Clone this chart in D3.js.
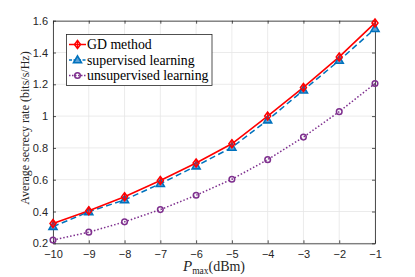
<!DOCTYPE html>
<html>
<head>
<meta charset="utf-8">
<script src="https://cdn.jsdelivr.net/npm/d3@7"></script>
<style>
  body { margin: 0; background: #fff; }
</style>
</head>
<body>
<div id="canvas"></div>
<script>
const width = 415;
const height = 277;

// data
var pmax = [-10, -9, -8, -7, -6, -5, -4, -3, -2, -1];
var gdMethod = [0.325, 0.405, 0.493, 0.595, 0.705, 0.826, 1.0, 1.18, 1.372, 1.586];
var supervised = [0.305, 0.398, 0.473, 0.575, 0.686, 0.803, 0.975, 1.163, 1.35, 1.55];
var unsupervised = [0.22, 0.27, 0.335, 0.412, 0.502, 0.603, 0.726, 0.868, 1.028, 1.205];
var xTicks = [-10, -9, -8, -7, -6, -5, -4, -3, -2, -1];
var yTicks = [0.2, 0.4, 0.6, 0.8, 1, 1.2, 1.4, 1.6];
var seriesNames = ["GD method", "supervised learning", "unsupervised learning"];

const plotL = 53, plotR = 375, plotT = 20.7, plotB = 243.3;

const svg = d3.select("#canvas")
    .append("svg")
    .attr("width", width)
    .attr("height", height)
    .style("background-color", "white");

var xScale = d3.scaleLinear().domain([-10, -1]).range([plotL, plotR]);
var yScale = d3.scaleLinear().domain([0.2, 1.6]).range([plotB, plotT]);

// grid
svg.append("g").selectAll("line")
    .data(xTicks)
    .join("line")
    .attr("x1", d => xScale(d)).attr("x2", d => xScale(d))
    .attr("y1", plotT).attr("y2", plotB)
    .attr("stroke", "#e6e6e6").attr("stroke-width", 0.8);
svg.append("g").selectAll("line")
    .data(yTicks)
    .join("line")
    .attr("y1", d => yScale(d)).attr("y2", d => yScale(d))
    .attr("x1", plotL).attr("x2", plotR)
    .attr("stroke", "#e6e6e6").attr("stroke-width", 0.8);

// axes
svg.append("g")
    .attr("transform", `translate(0,${plotB})`)
    .call(d3.axisBottom(xScale).tickValues(xTicks).tickSizeInner(-3).tickSizeOuter(0).tickPadding(7));
svg.append("g")
    .attr("transform", `translate(${plotL},0)`)
    .call(d3.axisLeft(yScale).tickValues(yTicks).tickFormat(d3.format("")).tickSizeInner(-3).tickSizeOuter(0).tickPadding(5));
svg.append("g")
    .attr("transform", `translate(0,${plotT})`)
    .call(d3.axisTop(xScale).tickValues(xTicks).tickFormat("").tickSizeInner(-3).tickSizeOuter(0));
svg.append("g")
    .attr("transform", `translate(${plotR},0)`)
    .call(d3.axisRight(yScale).tickValues(yTicks).tickFormat("").tickSizeInner(-3).tickSizeOuter(0));

svg.selectAll(".domain").attr("stroke", "#262626").attr("stroke-width", 0.8);
svg.selectAll(".tick line").attr("stroke", "#262626").attr("stroke-width", 0.8);
svg.selectAll(".tick text")
    .attr("fill", "#262626")
    .attr("font-family", "Liberation Sans, Arial, sans-serif")
    .attr("font-size", "11px");

// lines
function drawSeries(values, color, dash, sw) {
    var pts = pmax.map((p, i) => [p, values[i]]);
    svg.append("path")
        .datum(pts)
        .attr("fill", "none")
        .attr("stroke", color)
        .attr("stroke-width", sw)
        .attr("stroke-dasharray", dash)
        .attr("d", d3.line().x(d => xScale(d[0])).y(d => yScale(d[1])));
    return pts;
}

var ptsUn = drawSeries(unsupervised, "#7E2F8E", "1.5,2", 1.5);
var ptsSup = drawSeries(supervised, "#0072BD", "6,3.5", 1.5);
var ptsGd = drawSeries(gdMethod, "#FF0000", null, 1.6);

function circleMarker(g, x, y) {
    g.append("circle").attr("cx", x).attr("cy", y).attr("r", 2.8)
        .attr("fill", "none").attr("stroke", "#7E2F8E").attr("stroke-width", 1.5);
}
function triMarker(g, x, y) {
    g.append("path")
        .attr("d", `M${x},${y - 4.2}L${x + 4},${y + 2.8}L${x - 4},${y + 2.8}Z`)
        .attr("fill", "#5a9fd6").attr("stroke", "#0072BD").attr("stroke-width", 1.6);
}
function diaMarker(g, x, y) {
    g.append("path")
        .attr("d", `M${x},${y - 4}L${x + 3},${y}L${x},${y + 4}L${x - 3},${y}Z`)
        .attr("fill", "none").attr("stroke", "#FF0000").attr("stroke-width", 1.5);
    g.append("line").attr("x1", x).attr("x2", x).attr("y1", y - 4).attr("y2", y + 4)
        .attr("stroke", "#FF0000").attr("stroke-width", 1.2);
}

var mk = svg.append("g");
ptsUn.forEach(d => circleMarker(mk, xScale(d[0]), yScale(d[1])));
ptsSup.forEach(d => triMarker(mk, xScale(d[0]), yScale(d[1])));
ptsGd.forEach(d => diaMarker(mk, xScale(d[0]), yScale(d[1])));

// legend
var lg = svg.append("g");
lg.append("rect")
    .attr("x", 66.5).attr("y", 34.5).attr("width", 145.5).attr("height", 51)
    .attr("fill", "white").attr("stroke", "#262626").attr("stroke-width", 0.8);
var legendRows = [
    { name: seriesNames[0], color: "#FF0000", dash: null, m: diaMarker },
    { name: seriesNames[1], color: "#0072BD", dash: "3,1.5", m: triMarker },
    { name: seriesNames[2], color: "#7E2F8E", dash: "1.5,1.5", m: circleMarker }
];
legendRows.forEach((r, i) => {
    var yy = 44.5 + i * 15.5;
    lg.append("line").attr("x1", 69).attr("x2", 86).attr("y1", yy).attr("y2", yy)
        .attr("stroke", r.color).attr("stroke-width", 1.5).attr("stroke-dasharray", r.dash);
    r.m(lg, 77.5, yy);
    lg.append("text")
        .attr("x", 87).attr("y", yy + 4.5)
        .attr("font-family", "Liberation Serif, Times New Roman, serif")
        .attr("font-size", "13.8px")
        .attr("fill", "#000")
        .text(r.name);
});

// axis labels
svg.append("text")
    .attr("transform", `translate(29,128) rotate(-90)`)
    .attr("text-anchor", "middle")
    .attr("font-family", "Liberation Serif, Times New Roman, serif")
    .attr("font-size", "12px")
    .attr("fill", "#262626")
    .text("Average secrecy rate (bits/s/Hz)");

var xl = svg.append("text")
    .attr("x", 214).attr("y", 271)
    .attr("text-anchor", "middle")
    .attr("font-family", "Liberation Serif, Times New Roman, serif")
    .attr("font-size", "14px")
    .attr("fill", "#262626");
xl.append("tspan").attr("font-style", "italic").attr("font-size", "15px").text("P");
xl.append("tspan").attr("font-size", "9.5px").attr("dy", 2.5).text("max");
xl.append("tspan").attr("dy", -2.5).text("(dBm)");
</script>
</body>
</html>
